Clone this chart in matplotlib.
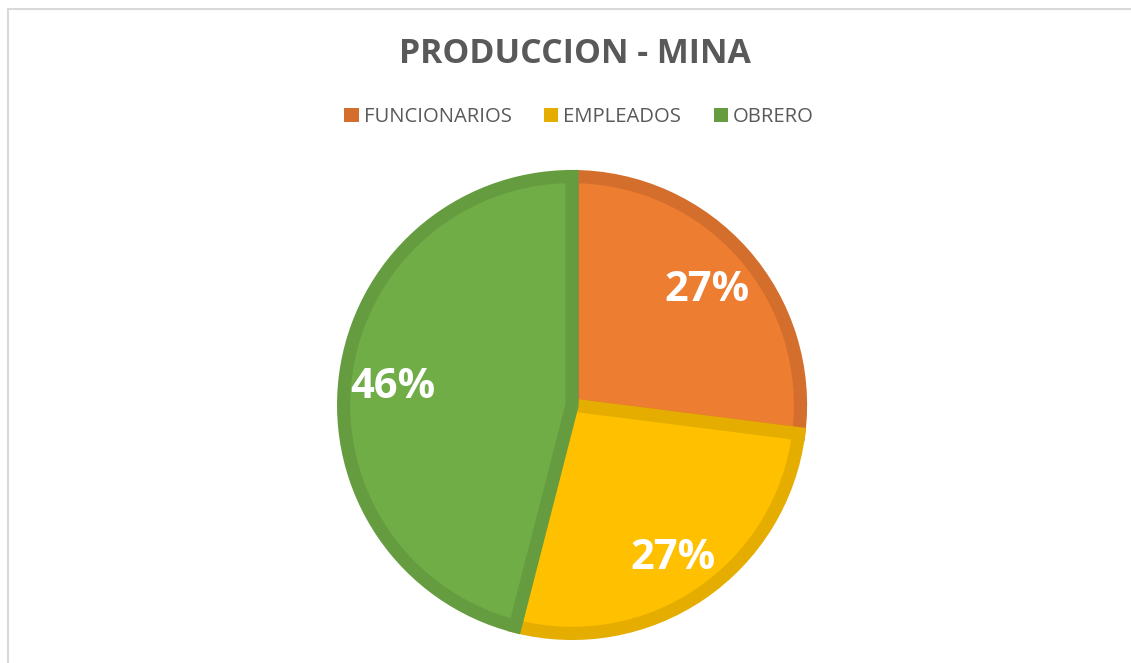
import matplotlib.pyplot as plt
from matplotlib.patches import Rectangle

categorias = ['FUNCIONARIOS', 'EMPLEADOS', 'OBRERO']
valores = [27, 27, 46]
colores = ['#ED7D31', '#FFC000', '#70AD47']
bordes = ['#D46E2C', '#E5AD00', '#659C40']
titulo = 'PRODUCCION - MINA'

plt.rcParams['font.family'] = ['Open Sans', 'DejaVu Sans']

fig = plt.figure(figsize=(11.31, 6.63), dpi=100)
fig.patch.set_facecolor('white')

# chart area border (only left and top edges visible)
fig.add_artist(Rectangle((8 / 1131, -0.2), 1.5, 1.2 - 9 / 663,
                         transform=fig.transFigure, fill=False,
                         edgecolor='#D9D9D9', linewidth=1.5))

ax = fig.add_axes([0.2980, 0.0347, 0.4156, 0.7089])
wedges, textos, pcts = ax.pie(valores, colors=colores, startangle=90,
                              counterclock=False, autopct='%1.0f%%',
                              pctdistance=0.79, radius=0.972,
                              textprops=dict(color='white', fontsize=30,
                                             fontweight='bold'))
for w, b in zip(wedges, bordes):
    w.set_edgecolor(b)
    w.set_linewidth(9.5)
    w.set_clip_path(w)
for t in pcts:
    x, y = t.get_position()
    t.set_position((x, y - 0.02))
ax.set_xlim(-1, 1)
ax.set_ylim(-1, 1)
ax.set_aspect('auto')

fig.text(575 / 1131, 1 - 54 / 663, titulo, ha='center', va='center',
         fontsize=24.4, fontweight='bold', color='#595959')

leg = fig.legend(wedges, categorias, loc='center', ncol=3,
                 bbox_to_anchor=(579 / 1131, 1 - 117 / 663), frameon=False,
                 fontsize=14.6, handlelength=0.7, handleheight=0.7,
                 handletextpad=0.25, columnspacing=1.6, labelcolor='#595959')
for h, c in zip(leg.legend_handles, bordes):
    h.set_facecolor(c)
    h.set_edgecolor(c)
    h.set_linewidth(0)

fig.savefig('out.png', dpi=100)
